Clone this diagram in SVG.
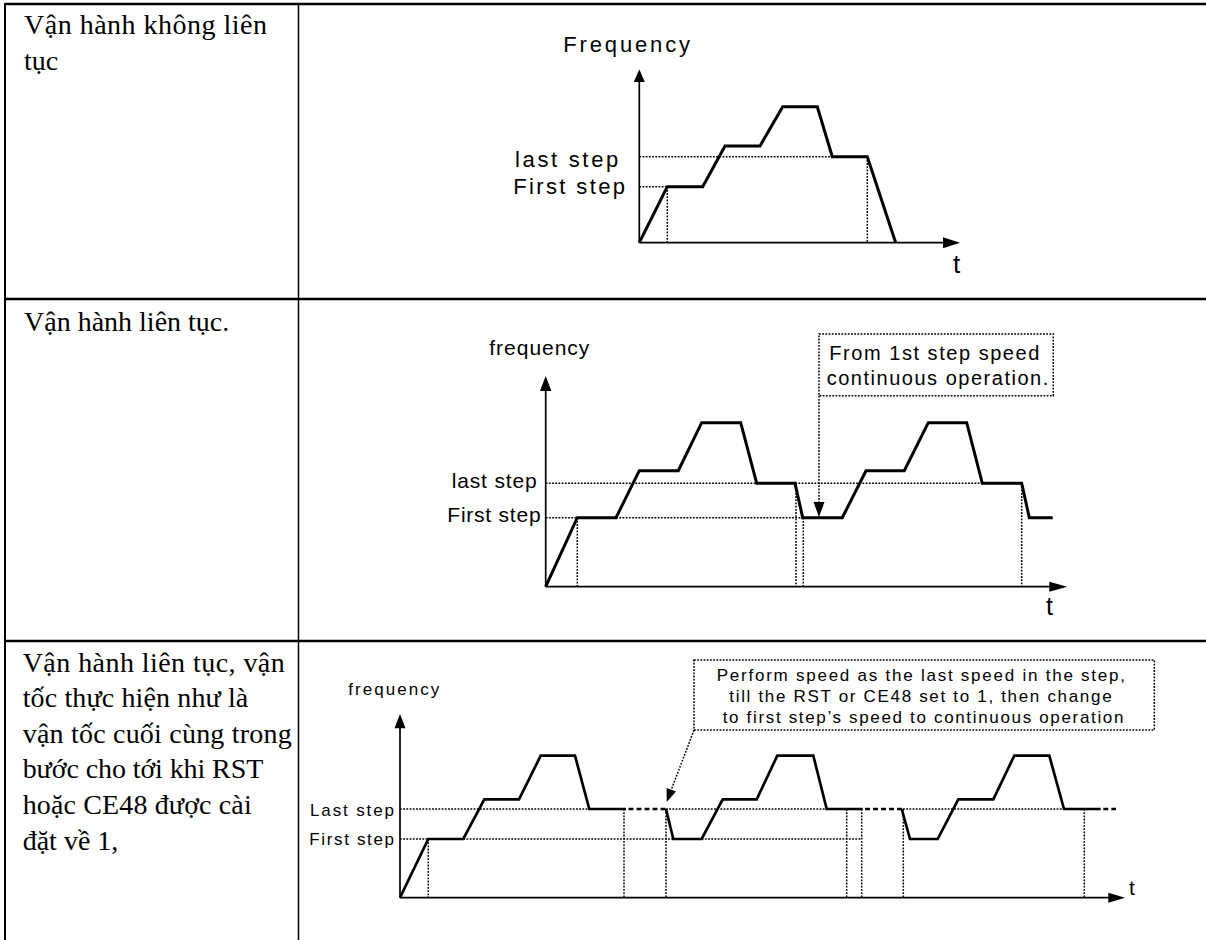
<svg xmlns="http://www.w3.org/2000/svg" width="1206" height="940" viewBox="0 0 1206 940">
<style>
.cell{font-family:"Liberation Serif","Times New Roman",serif;font-size:28px;fill:#000}
.lbl{font-family:"Liberation Sans",Arial,sans-serif;fill:#000}
.axis{stroke:#000;stroke-width:1.7;fill:none}
.curve{stroke:#000;stroke-width:3;fill:none;stroke-linejoin:miter}
.c3{stroke-width:2.7}
.dash{stroke:#000;stroke-width:2.7;stroke-dasharray:5 3;fill:none}
.dot{stroke:#000;stroke-width:1.5;stroke-dasharray:1.8 1.4;fill:none}
.rule{stroke:#000;fill:none}
.head{fill:#000}
</style>
<rect width="1206" height="940" fill="#fff"/>
<g id="table">
<line class="rule" x1="5" y1="4" x2="1206" y2="4" stroke-width="2.6"/>
<line class="rule" x1="5" y1="299" x2="1206" y2="299" stroke-width="2.6"/>
<line class="rule" x1="5" y1="641" x2="1206" y2="641" stroke-width="2.6"/>
<line class="rule" x1="5" y1="3" x2="5" y2="940" stroke-width="2"/>
<line class="rule" x1="298.5" y1="4" x2="298.5" y2="940" stroke-width="1.5"/>
</g>
<g id="row1-text">
<text class="cell" x="24" y="34" textLength="243" lengthAdjust="spacing">Vận hành không liên</text>
<text class="cell" x="24" y="70">tục</text>
</g>
<g id="row2-text">
<text class="cell" x="24" y="331">Vận hành liên tục.</text>
</g>
<g id="row3-text">
<text class="cell" x="22.7" y="672" textLength="262" lengthAdjust="spacing">Vận hành liên tục, vận</text>
<text class="cell" x="22.7" y="707" textLength="225.6" lengthAdjust="spacing">tốc thực hiện như là</text>
<text class="cell" x="22.7" y="743" textLength="269" lengthAdjust="spacing">vận tốc cuối cùng trong</text>
<text class="cell" x="22.7" y="778" textLength="240.6" lengthAdjust="spacing">bước cho tới khi RST</text>
<text class="cell" x="22.7" y="814" textLength="229" lengthAdjust="spacing">hoặc CE48 được cài</text>
<text class="cell" x="22.7" y="850">đặt về 1,</text>
</g>
<g id="graph1">
<polyline class="dot" points="639.3,156.7 832.3,156.7"/>
<polyline class="dot" points="639.3,186.7 667.3,186.7"/>
<line class="dot" x1="667.3" y1="186.7" x2="667.3" y2="242.7"/>
<line class="dot" x1="867.3" y1="156.7" x2="867.3" y2="242.7"/>
<line class="axis" x1="639.3" y1="242.7" x2="639.3" y2="80"/>
<line class="axis" x1="639.3" y1="242.7" x2="944" y2="242.7"/>
<polygon class="head" points="639.3,69.3 633.8,82 644.8,82"/>
<polygon class="head" points="960,242.7 943,237.2 943,248.2"/>
<polyline class="curve" points="639.3,242.7 667.3,186.7 702.7,186.7 725,146 760,146 782.7,106.7 817.3,106.7 832.3,156.7 867.3,156.7 895.7,242.7"/>
<text class="lbl" x="563.3" y="52.3" font-size="22" textLength="126.7" lengthAdjust="spacing">Frequency</text>
<text class="lbl" x="515" y="166.7" font-size="22" textLength="103.3" lengthAdjust="spacing">last step</text>
<text class="lbl" x="513.3" y="194" font-size="22" textLength="111.7" lengthAdjust="spacing">First step</text>
<text class="lbl" x="953" y="272.7" font-size="26">t</text>
</g>
<g id="graph2">
<line class="dot" x1="545.7" y1="483.3" x2="982.3" y2="483.3"/>
<line class="dot" x1="545.7" y1="517.7" x2="803" y2="517.7"/>
<line class="dot" x1="577.3" y1="517.7" x2="577.3" y2="586.7"/>
<line class="dot" x1="796" y1="483.3" x2="796" y2="586.7"/>
<line class="dot" x1="803.3" y1="517.7" x2="803.3" y2="586.7"/>
<line class="dot" x1="1021.7" y1="483.3" x2="1021.7" y2="586.7"/>
<line class="axis" x1="545.7" y1="586.7" x2="545.7" y2="389"/>
<line class="axis" x1="545.7" y1="586.7" x2="1050" y2="586.7"/>
<polygon class="head" points="545.7,376 540,391 551.4,391"/>
<polygon class="head" points="1067.3,586.7 1049.3,581.7 1049.3,591.7"/>
<polyline class="curve" points="545.7,586.7 577.3,517.7 616,517.7 639.3,470.7 678.3,470.7 701.7,422.7 740.7,422.7 756.7,483.3 795,483.3 802.7,517.7 842.3,517.7 866,470.7 904.3,470.7 928.3,422.7 966.7,422.7 982.3,483.3 1021.7,483.3 1029.3,517.7 1052.7,517.7"/>
<text class="lbl" x="489.3" y="355" font-size="21" textLength="100" lengthAdjust="spacing">frequency</text>
<text class="lbl" x="451.7" y="488.3" font-size="21" textLength="85" lengthAdjust="spacing">last step</text>
<text class="lbl" x="447.3" y="522.3" font-size="21" textLength="93.3" lengthAdjust="spacing">First step</text>
<text class="lbl" x="1046" y="615" font-size="25">t</text>
</g>
<g id="callout1">
<rect class="dot" x="819" y="334" width="234.3" height="61.7"/>
<text class="lbl" x="829.3" y="360" font-size="20" textLength="210" lengthAdjust="spacing">From 1st step speed</text>
<text class="lbl" x="826.7" y="385" font-size="20" textLength="221.6" lengthAdjust="spacing">continuous operation.</text>
</g>
<g id="graph3">
<line class="dot" x1="400" y1="809" x2="589.3" y2="809"/>
<line class="dot" x1="666" y1="809" x2="826.7" y2="809"/>
<line class="dot" x1="903" y1="809" x2="1064" y2="809"/>
<line class="dot" x1="400" y1="839" x2="428.3" y2="839"/>
<line class="dot" x1="463.3" y1="839" x2="673.3" y2="839"/>
<line class="dot" x1="701.7" y1="839" x2="861.7" y2="839"/>
<line class="dot" x1="428.3" y1="839" x2="428.3" y2="897.7"/>
<line class="dot" x1="624" y1="809" x2="624" y2="897.7"/>
<line class="dot" x1="666" y1="809" x2="666" y2="897.7"/>
<line class="dot" x1="846.7" y1="809" x2="846.7" y2="897.7"/>
<line class="dot" x1="861.7" y1="809" x2="861.7" y2="897.7"/>
<line class="dot" x1="903.3" y1="809" x2="903.3" y2="897.7"/>
<line class="dot" x1="1084.3" y1="809" x2="1084.3" y2="897.7"/>
<line class="axis" x1="400" y1="897.7" x2="400" y2="727" stroke-width="1.4"/>
<line class="axis" x1="400" y1="897.7" x2="1110" y2="897.7" stroke-width="1.4"/>
<polygon class="head" points="400,714 394.5,728.3 405.5,728.3"/>
<polygon class="head" points="1125,897.7 1108.3,892.7 1108.3,902.7"/>
<polyline class="curve c3" points="400,897.7 428.3,839 463.3,839 484.3,799.3 519,799.3 540.7,755.7 575,755.7 589.3,809 626,809"/>
<line class="dash" x1="628.5" y1="809" x2="666" y2="809"/>
<polyline class="curve c3" points="666,809 673.3,839 701.7,839 722.7,799.3 756.7,799.3 777.3,755.7 813.3,755.7 826.7,809 862.7,809"/>
<line class="dash" x1="865" y1="809" x2="902" y2="809"/>
<polyline class="curve c3" points="901.7,809 910,839 937.7,839 958.3,799.3 993.3,799.3 1014.3,755.7 1049.3,755.7 1064,809 1100.7,809"/>
<line class="dash" x1="1103.3" y1="809" x2="1116" y2="809"/>
<text class="lbl" x="348.3" y="695" font-size="17" textLength="91" lengthAdjust="spacing">frequency</text>
<text class="lbl" x="310" y="816" font-size="17" textLength="84" lengthAdjust="spacing">Last step</text>
<text class="lbl" x="309.3" y="845" font-size="17" textLength="84.7" lengthAdjust="spacing">First step</text>
<text class="lbl" x="1129" y="895" font-size="21">t</text>
</g>
<g id="callout2">
<rect class="dot" x="694" y="660" width="460.3" height="70"/>
<text class="lbl" x="716.7" y="680.7" font-size="17" textLength="408.3" lengthAdjust="spacing">Perform speed as the last speed in the step,</text>
<text class="lbl" x="729.3" y="701.7" font-size="17" textLength="382.3" lengthAdjust="spacing">till the RST or CE48 set to 1, then change</text>
<text class="lbl" x="722.7" y="723.3" font-size="17" textLength="400.7" lengthAdjust="spacing">to first step’s speed to continuous operation</text>
</g>
<g id="connectors">
<line class="dot" x1="819" y1="395.7" x2="819" y2="503"/>
<polygon class="head" points="819,517 813.5,502 824.5,502"/>
<line class="dot" x1="694" y1="730" x2="671.3" y2="789.8"/>
<polygon class="head" points="666.7,802 676,791.6 666.6,788"/>
</g>
</svg>
